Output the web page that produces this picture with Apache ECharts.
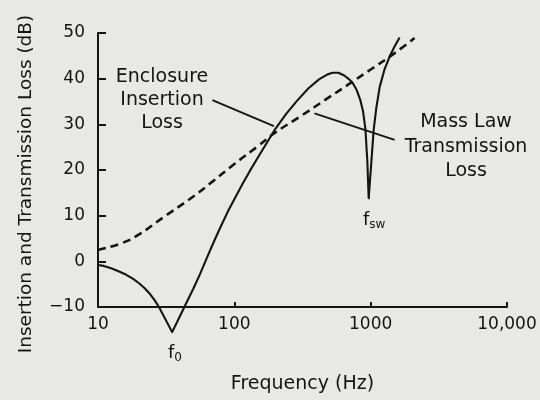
<!DOCTYPE html>
<html>
<head>
<meta charset="utf-8">
<script src="https://cdn.jsdelivr.net/npm/echarts@6/dist/echarts.min.js"></script>
<style>
html,body{margin:0;padding:0;background:#e8e8e6;}
#c{width:540px;height:400px;}
</style>
</head>
<body>
<div id="c"></div>
<script>
// Frequency (Hz) tick labels
const xTicks = [10, 100, 1000, 10000];
const xTickLabels = ['10', '100', '1000', '10,000'];
const yTicks = [-10, 0, 10, 20, 30, 40, 50];

// Enclosure insertion loss (solid)
const encFreq = [10, 11, 12.5, 14, 16, 18, 20, 22, 24, 26, 28, 35, 43, 50, 56, 63, 71, 80, 90, 100, 115, 130, 150, 175, 200, 240, 289, 350, 420, 480, 525, 580, 640, 700, 740, 790, 840, 880, 915, 945, 967, 990, 1010, 1052, 1100, 1165, 1260, 1380, 1500, 1630];
const encLoss = [-0.8, -1.0, -1.5, -2.1, -2.9, -3.8, -4.8, -5.9, -7.1, -8.5, -10, -15.5, -10, -6.0, -2.8, 0.8, 4.4, 7.8, 11.0, 13.6, 17.0, 19.8, 22.9, 26.2, 29.0, 32.3, 35.2, 37.9, 39.9, 40.9, 41.3, 41.3, 40.7, 39.8, 39.0, 37.5, 35.3, 32.8, 29.0, 22.0, 13.8, 18.0, 21.5, 28.8, 33.6, 38.2, 41.9, 44.9, 47.1, 49.0];

// Mass law transmission loss (dashed)
const massFreq = [10, 15, 20, 30, 50, 70, 100, 150, 200, 300, 500, 700, 1000, 1500, 2100];
const massLoss = [2.5, 4.0, 5.9, 9.6, 14.2, 17.6, 21.3, 25.3, 28.2, 31.6, 36.0, 38.9, 42.0, 45.6, 48.9];

// Annotation leader lines [freq, dB]
const leaderEnclosure = [[69, 35.3], [195, 29.6]];
const leaderMassLaw = [[387, 32.4], [1500, 26.6]];

const FONT = 'DejaVu Sans';
const INK = '#141414';

const chart = echarts.init(document.getElementById('c'), null, {renderer: 'canvas'});

const toPairs = (xs, ys) => xs.map((x, i) => [x, ys[i]]);

chart.setOption({
  backgroundColor: '#e8e8e6',
  animation: false,
  grid: {left: 98, right: 33, top: 33, bottom: 93},
  xAxis: {
    type: 'log',
    logBase: 10,
    min: 10,
    max: 10000,
    name: 'Frequency (Hz)',
    nameLocation: 'middle',
    nameGap: 68,
    nameTextStyle: {fontFamily: FONT, fontSize: 19, color: INK},
    axisLine: {show: true, onZero: false, lineStyle: {color: INK, width: 2}},
    axisTick: {show: true, inside: true, length: 5, lineStyle: {color: INK, width: 2}},
    minorTick: {show: false},
    splitLine: {show: false},
    axisLabel: {
      fontFamily: FONT, fontSize: 17, color: INK, margin: 9,
      formatter: v => { const i = xTicks.indexOf(Math.round(v)); return i >= 0 ? xTickLabels[i] : ''; }
    }
  },
  yAxis: {
    type: 'value',
    min: -10,
    max: 50,
    interval: 10,
    axisLine: {show: true, onZero: false, lineStyle: {color: INK, width: 2}},
    axisTick: {show: true, inside: true, length: 8, lineStyle: {color: INK, width: 2}},
    splitLine: {show: false},
    axisLabel: {
      fontFamily: FONT, fontSize: 17, color: INK, margin: 13,
      formatter: v => (yTicks.indexOf(v) >= 0 ? (v < 0 ? '\u2212' + Math.abs(v) : String(v)) : '')
    }
  },
  series: [
    {
      name: 'Enclosure Insertion Loss',
      type: 'line',
      data: toPairs(encFreq, encLoss),
      showSymbol: false,
      clip: false,
      smooth: false,
      lineStyle: {color: INK, width: 2.1, join: 'round'}
    },
    {
      name: 'Mass Law Transmission Loss',
      type: 'line',
      data: toPairs(massFreq, massLoss),
      showSymbol: false,
      clip: false,
      smooth: true,
      lineStyle: {color: INK, width: 2.6, type: [8, 5]}
    },
    {
      type: 'line', data: leaderEnclosure, showSymbol: false, clip: false,
      lineStyle: {color: INK, width: 1.8}
    },
    {
      type: 'line', data: leaderMassLaw, showSymbol: false, clip: false,
      lineStyle: {color: INK, width: 1.8}
    }
  ],
  graphic: [
    {
      type: 'text', x: 26, y: 184, rotation: Math.PI / 2,
      style: {text: 'Insertion and Transmission Loss (dB)', font: '18.5px "' + FONT + '"', fill: INK, align: 'center', verticalAlign: 'middle'}
    },
    {
      type: 'text', x: 162, y: 100,
      style: {text: 'Enclosure\nInsertion\nLoss', font: '19px "' + FONT + '"', fill: INK, align: 'center', verticalAlign: 'middle', lineHeight: 23}
    },
    {
      type: 'text', x: 466, y: 147,
      style: {text: 'Mass Law\nTransmission\nLoss', font: '19px "' + FONT + '"', fill: INK, align: 'center', verticalAlign: 'middle', lineHeight: 24.5}
    },
    {
      type: 'text', x: 168, y: 344,
      style: {
        text: '{f|f}{s|0}', fill: INK,
        rich: {
          f: {fontFamily: FONT, fontSize: 18, color: INK, verticalAlign: 'top'},
          s: {fontFamily: FONT, fontSize: 12, color: INK, verticalAlign: 'bottom', padding: [8, 0, 0, 0]}
        }
      }
    },
    {
      type: 'text', x: 363, y: 211,
      style: {
        text: '{f|f}{s|sw}', fill: INK,
        rich: {
          f: {fontFamily: FONT, fontSize: 18, color: INK, verticalAlign: 'top'},
          s: {fontFamily: FONT, fontSize: 12, color: INK, verticalAlign: 'bottom', padding: [8, 0, 0, 0]}
        }
      }
    }
  ]
});
</script>
</body>
</html>
